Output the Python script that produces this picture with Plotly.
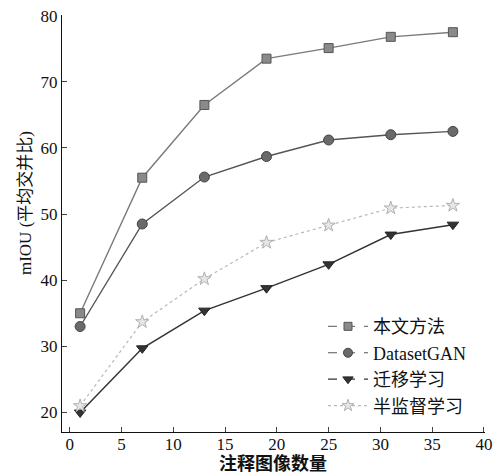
import plotly.graph_objects as go

x_vals = [1, 7, 13, 19, 25, 31, 37]
ours = [35.0, 55.5, 66.5, 73.5, 75.1, 76.8, 77.5]
datasetgan = [33.0, 48.5, 55.6, 58.7, 61.2, 62.0, 62.5]
transfer = [20.0, 29.7, 35.4, 38.8, 42.4, 46.9, 48.4]
semi = [21.0, 33.7, 40.2, 45.7, 48.3, 50.9, 51.3]
names = ["本文方法", "DatasetGAN", "迁移学习", "半监督学习"]
x_ticks = [0, 5, 10, 15, 20, 25, 30, 35, 40]
y_ticks = [20, 30, 40, 50, 60, 70, 80]
x_title = "注释图像数量"
y_title = "mIOU (平均交并比)"

FONT = "Liberation Serif, Noto Sans CJK SC, serif"

styles = [
    dict(symbol="square", size=9, mcolor="#8a8a8a", mline="#555555", lcolor="#7a7a7a", dash="solid", width=1.4),
    dict(symbol="circle", size=10, mcolor="#6a6a6a", mline="#444444", lcolor="#555555", dash="solid", width=1.4),
    dict(symbol="triangle-down", size=10, mcolor="#333333", mline="#222222", lcolor="#333333", dash="solid", width=1.5),
    dict(symbol="star", size=10, mcolor="#e6e6e6", mline="#b0b0b0", lcolor="#b8b8b8", dash="dot", width=1.2),
]
series = [ours, datasetgan, transfer, semi]

fig = go.Figure()
for name, ys, st in zip(names, series, styles):
    fig.add_trace(go.Scatter(
        x=x_vals, y=ys, mode="lines+markers", name=name, showlegend=False,
        line=dict(color=st["lcolor"], width=st["width"], dash=st["dash"]),
        marker=dict(symbol=st["symbol"], size=st["size"], color=st["mcolor"],
                    line=dict(color=st["mline"], width=1)),
    ))
for name, st in zip(names, styles):
    fig.add_trace(go.Scatter(
        x=[None], y=[None], mode="lines+markers", name=name, showlegend=True,
        line=dict(color=st["lcolor"], width=1.2, dash="dot" if st["dash"] == "dot" else "dash"),
        marker=dict(symbol=st["symbol"], size=st["size"] - 1, color=st["mcolor"],
                    line=dict(color=st["mline"], width=1)),
    ))

tick_font = dict(family="Liberation Serif, serif", size=17, color="#111111")

fig.update_layout(
    width=496, height=474,
    margin=dict(l=62, r=11, t=15, b=42, autoexpand=False),
    paper_bgcolor="white", plot_bgcolor="white",
    font=dict(family=FONT, size=17, color="#111111"),
    legend=dict(x=0.617, y=0.297, xanchor="left", yanchor="top",
                bgcolor="rgba(0,0,0,0)", font=dict(family=FONT, size=18),
                itemwidth=40, tracegroupgap=0),
    xaxis=dict(range=[-0.75, 40.1], tickvals=x_ticks, ticks="inside", ticklen=5,
               showline=True, linecolor="#111111", linewidth=1.2, showgrid=False,
               zeroline=False, mirror=False, automargin=False,
               ticklabelstandoff=-4,
               ticklabeloverflow="allow", tickfont=tick_font),
    yaxis=dict(range=[17.05, 80.1], tickvals=y_ticks, ticks="inside", ticklen=5,
               showline=True, linecolor="#111111", linewidth=1.2, showgrid=False,
               zeroline=False, mirror=False, automargin=False,
               ticklabeloverflow="allow", tickfont=tick_font),
    annotations=[
        dict(text="<b>" + x_title + "</b>", xref="paper", yref="paper", x=0.499, y=-0.077,
             xanchor="center", yanchor="middle", showarrow=False, font=dict(size=18)),
        dict(text=y_title, xref="paper", yref="paper", x=-0.0875, y=0.549,
             xanchor="center", yanchor="middle", showarrow=False, textangle=-90,
             font=dict(size=17)),
    ],
)

fig.write_html(
    "out.html",
    config={"displayModeBar": False},
    post_script="document.body.style.margin='0';document.body.style.overflow='hidden';",
)
